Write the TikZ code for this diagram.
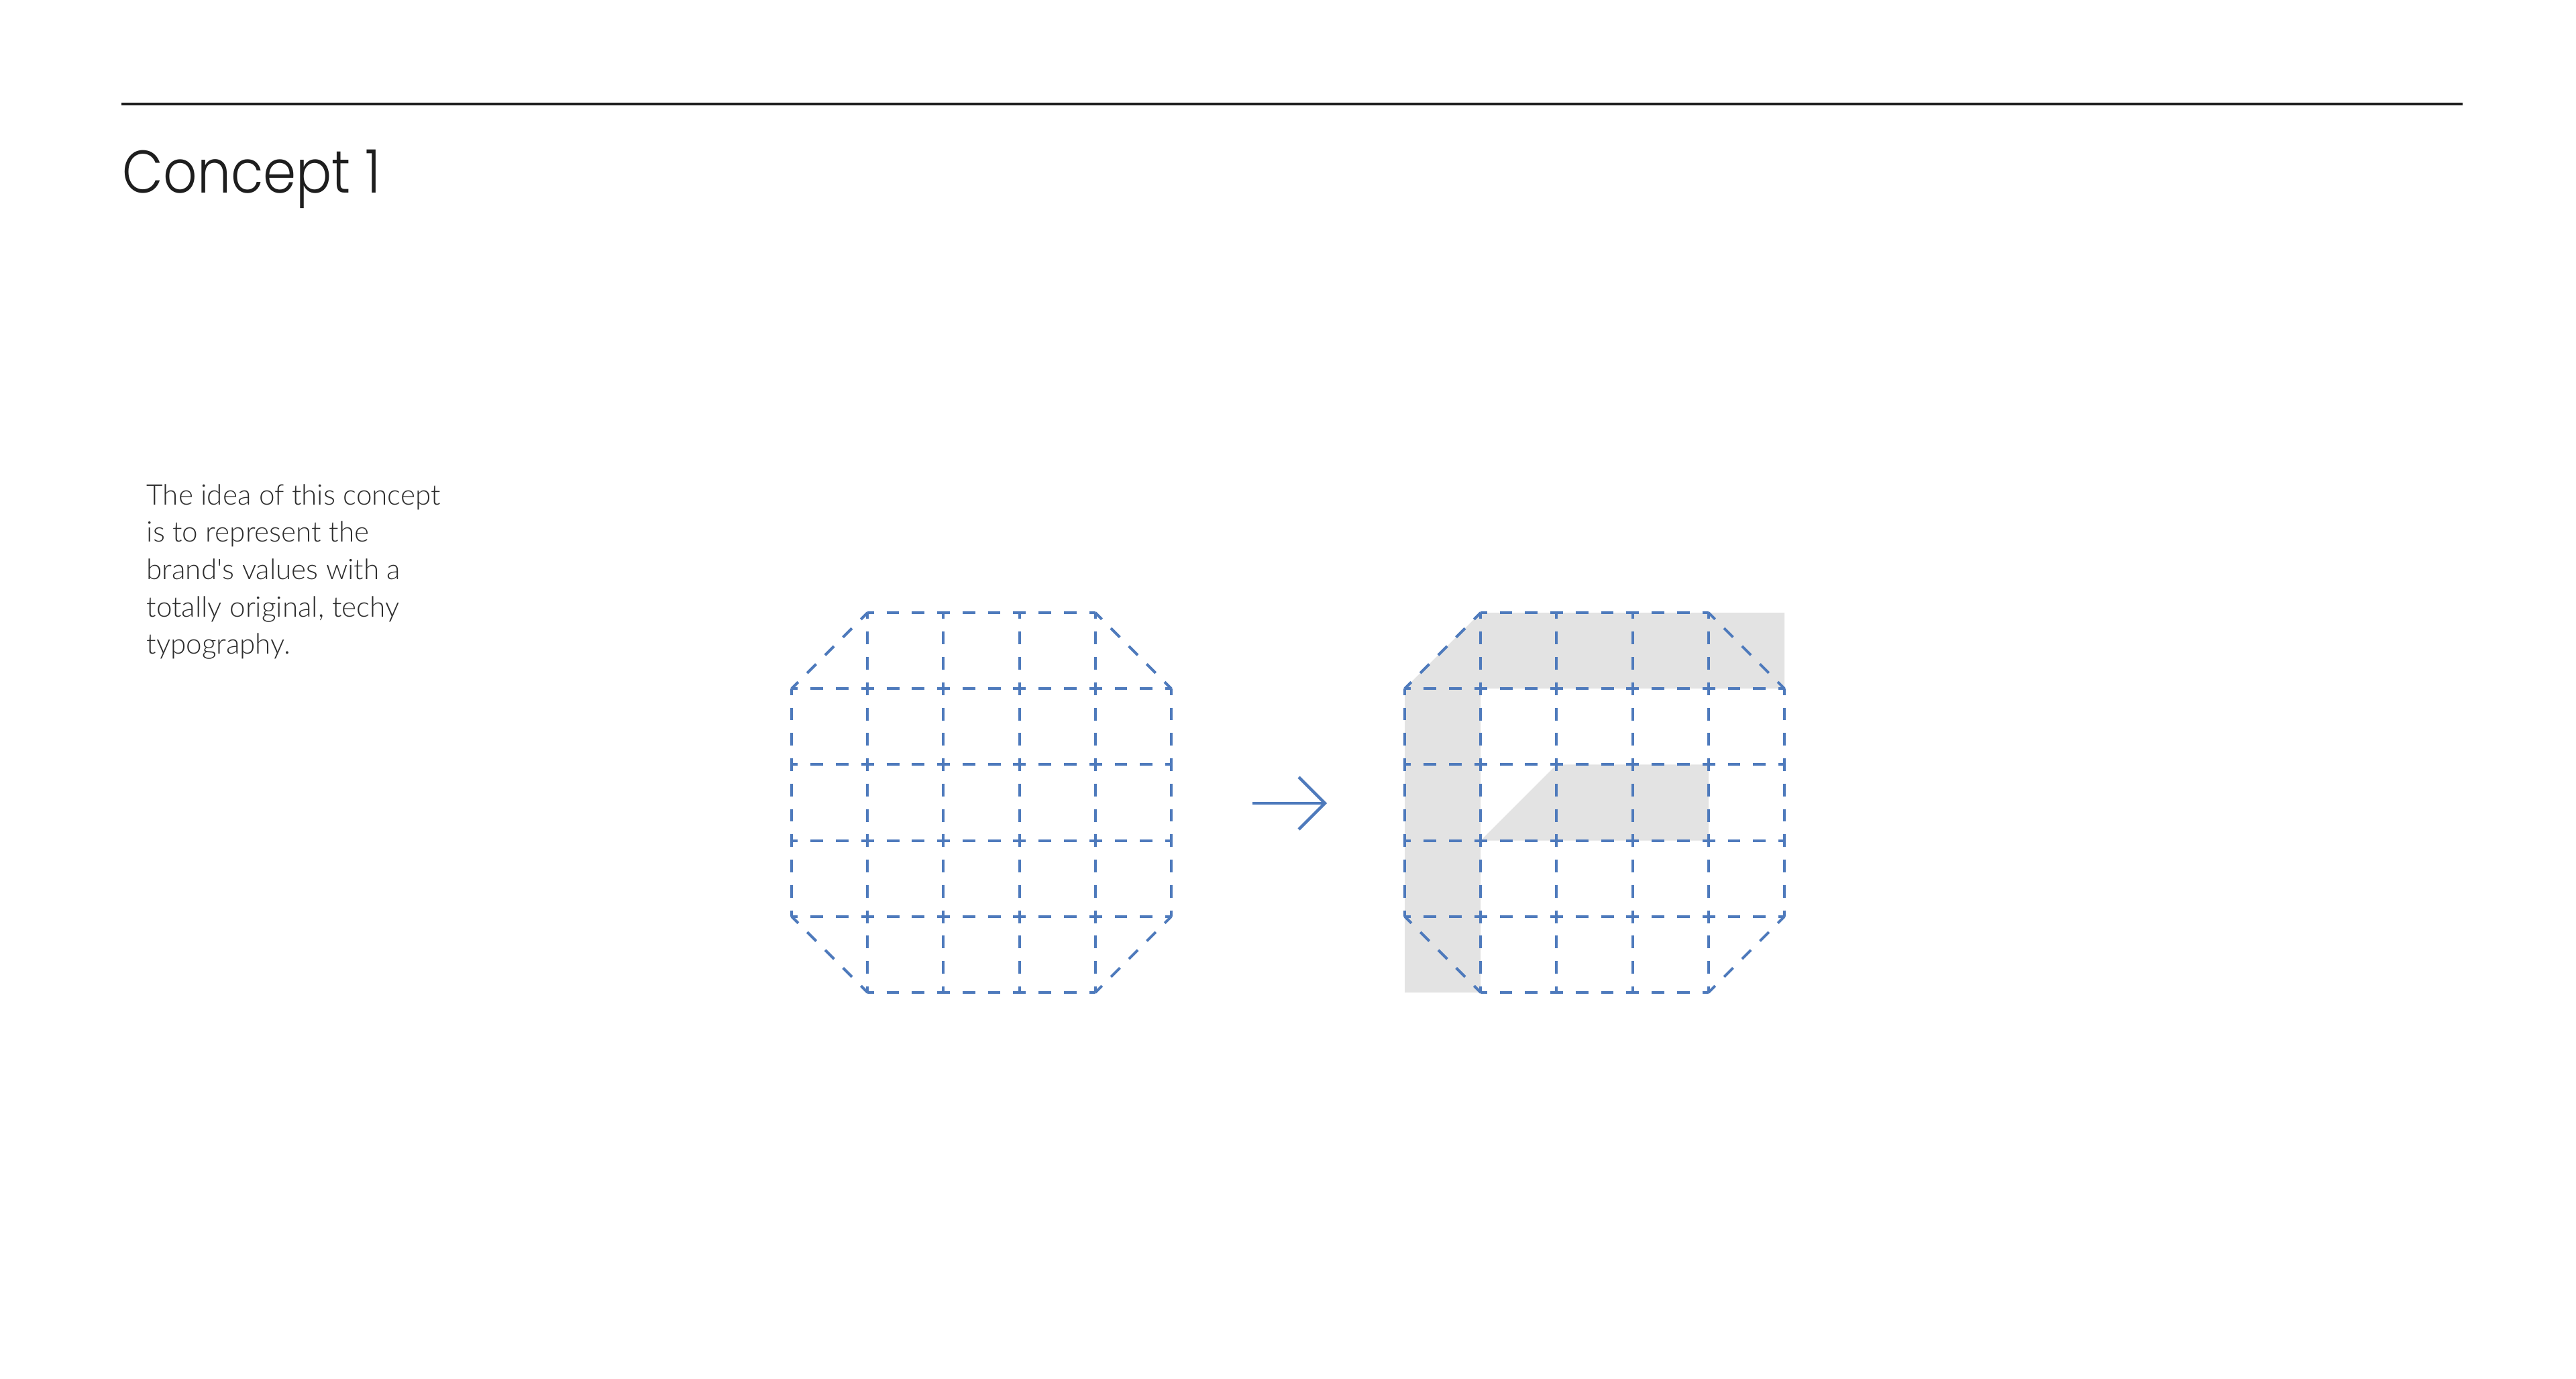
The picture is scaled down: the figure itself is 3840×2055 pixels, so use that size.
\documentclass[tikz,border=0pt]{standalone}
\usepackage{fontspec}
\setmainfont{Lato Light}
\newfontfamily\titlefont{Poppins Light}
\definecolor{gridblue}{RGB}{78,122,188}
\definecolor{letterfill}{RGB}{227,227,227}
\definecolor{inkdark}{RGB}{30,30,30}
\definecolor{inktext}{RGB}{45,45,45}
\tikzset{
  gridline/.style={draw=gridblue, line width=0.04cm, dash pattern=on 0.1887cm off 0.1887cm, dash phase=0.0943cm},
  diagline/.style={draw=gridblue, line width=0.04cm, dash pattern=on 0.1887cm off 0.1887cm, dash phase=0.05cm},
  arrowline/.style={draw=gridblue, line width=0.045cm},
  paraline/.style={anchor=base west, inner sep=0pt, text=inktext, font=\fontsize{12}{15}\selectfont},
  octgrid/.pic={
    \foreach \k in {113.2,226.4,339.6,452.8}{
      \draw[gridline] (0,\k) -- (566,\k);
      \draw[gridline] (\k,0) -- (\k,566);
    }
    \draw[gridline] (113.2,0) -- (452.8,0);
    \draw[gridline] (113.2,566) -- (452.8,566);
    \draw[gridline] (0,113.2) -- (0,452.8);
    \draw[gridline] (566,113.2) -- (566,452.8);
    \draw[diagline] (0,113.2) -- (113.2,0);
    \draw[diagline] (452.8,0) -- (566,113.2);
    \draw[diagline] (566,452.8) -- (452.8,566);
    \draw[diagline] (113.2,566) -- (0,452.8);
  }
}
\begin{document}
\begin{tikzpicture}[x=0.01cm,y=-0.01cm]
\useasboundingbox (0,0) rectangle (3840,2055);
\fill[white] (0,0) rectangle (3840,2055);
% header rule and title
\coordinate (ruleL) at (181,155);
\coordinate (ruleR) at (3671,155);
\draw[line width=0.035cm, inkdark] (ruleL) -- (ruleR);
\node[anchor=base west, inner sep=0pt, text=inkdark, font=\titlefont\fontsize{25.5}{30}\selectfont] (title) at (182,288) {\scalebox{0.88}[1]{Concept 1}};
% paragraph
\node[paraline] (p1) at (218,752) {The idea of this concept};
\node[paraline] (p2) at (218,807.7) {is to represent the};
\node[paraline] (p3) at (218,863.4) {brand\textquotesingle s values with a};
\node[paraline] (p4) at (218,919.1) {totally original, techy};
\node[paraline] (p5) at (218,974.8) {typography.};
% left grid
\pic at (1180,913) {octgrid};
% arrow
\coordinate (arrS) at (1867,1197);
\coordinate (arrE) at (1975,1197);
\draw[arrowline] (arrS) -- (arrE);
\draw[arrowline] ([shift={(-39,-39)}]arrE) -- (arrE) -- ([shift={(-39,39)}]arrE);
% right grid with letter
\begin{scope}[shift={(2094,913)}]
  \fill[letterfill] (0,113.2) -- (113.2,0) -- (566,0) -- (566,113.2) -- (113.2,113.2) -- (113.2,566) -- (0,566) -- cycle;
  \fill[letterfill] (113.2,339.6) -- (226.4,226.4) -- (452.8,226.4) -- (452.8,339.6) -- cycle;
\end{scope}
\pic at (2094,913) {octgrid};
\end{tikzpicture}
\end{document}
